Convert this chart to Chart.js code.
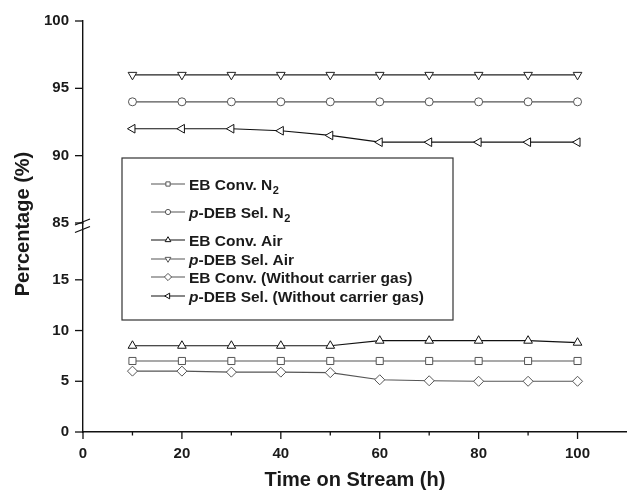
<!DOCTYPE html>
<html>
<head>
<meta charset="utf-8">
<script src="https://cdn.jsdelivr.net/npm/chart.js@4.4.1/dist/chart.umd.min.js"></script>
<style>
  html, body { margin: 0; padding: 0; background: #fff; }
  #wrap { width: 627px; height: 490px; }
</style>
</head>
<body>
<div id="wrap"><canvas id="myChart" width="627" height="490"></canvas></div>
<script>
// Time on stream (h)
const hours = [10, 20, 30, 40, 50, 60, 70, 80, 90, 100];

// Series values (%)
const ebConvN2 = [7, 7, 7, 7, 7, 7, 7, 7, 7, 7];
const debSelN2 = [94, 94, 94, 94, 94, 94, 94, 94, 94, 94];
const ebConvAir = [8.5, 8.5, 8.5, 8.5, 8.5, 9, 9, 9, 9, 8.8];
const debSelAir = [96, 96, 96, 96, 96, 96, 96, 96, 96, 96];
const ebConvNoGas = [6, 6, 5.9, 5.9, 5.85, 5.15, 5.05, 5, 5, 5];
const debSelNoGas = [92, 92, 92, 91.85, 91.5, 91, 91, 91, 91, 91];

// Tick values of the broken y axis and the x axis
const lowTicks = [0, 2.5, 5, 7.5, 10, 12.5, 15, 17.5];
const highTicks = [85, 87.5, 90, 92.5, 95, 97.5, 100];
const xTicks = [0, 10, 20, 30, 40, 50, 60, 70, 80, 90, 100, 110];

const FONT = '"Liberation Sans", Arial, Helvetica, sans-serif';
Chart.defaults.font.family = FONT;
Chart.defaults.color = '#1a1a1a';

// Legend entries: parts are [text, style] where style is 'n', 'i' (italic) or 's' (subscript)
const legendItems = [
  { parts: [['EB Conv. N', 'n'], ['2', 's']], style: 'rect', rot: 0, color: '#555', r: 3 },
  { parts: [['p', 'i'], ['-DEB Sel. N', 'n'], ['2', 's']], style: 'circle', rot: 0, color: '#555', r: 2.6 },
  { parts: [['EB Conv. Air', 'n']], style: 'triangle', rot: 0, color: '#111', r: 3.3 },
  { parts: [['p', 'i'], ['-DEB Sel. Air', 'n']], style: 'triangle', rot: 180, color: '#555', r: 3.3 },
  { parts: [['EB Conv. (Without carrier gas)', 'n']], style: 'rectRot', rot: 0, color: '#555', r: 3.6 },
  { parts: [['p', 'i'], ['-DEB Sel. (Without carrier gas)', 'n']], style: 'triangle', rot: -90, color: '#111', r: 3.3 }
];
const legendRows = [184, 212, 240, 259, 277, 296];

function series(label, data, axis, style, rot, color, r) {
  return {
    label: label,
    data: data,
    yAxisID: axis,
    borderColor: color,
    borderWidth: 1.2,
    pointStyle: style,
    rotation: rot,
    pointRadius: r,
    pointBackgroundColor: '#fff',
    pointBorderColor: color,
    pointBorderWidth: 1,
    tension: 0
  };
}

// Small tick marks, broken-axis sign, custom legend and axis titles
const decorations = {
  id: 'decorations',
  afterDraw(chart) {
    const ctx = chart.ctx;
    ctx.save();
    ctx.strokeStyle = '#111';
    ctx.lineWidth = 1.3;

    const xs = chart.scales.x;
    xs.ticks.forEach(function (t) {
      if (t.value > 100) return;
      const px = xs.getPixelForValue(t.value);
      const len = t.value % 20 === 0 ? 7 : 3.5;
      ctx.beginPath();
      ctx.moveTo(px, xs.top);
      ctx.lineTo(px, xs.top + len);
      ctx.stroke();
    });
    ['yLow', 'yHigh'].forEach(function (id) {
      const s = chart.scales[id];
      s.ticks.forEach(function (t) {
        const py = s.getPixelForValue(t.value);
        const len = t.value % 5 === 0 ? 8 : 3.5;
        ctx.beginPath();
        ctx.moveTo(s.right, py);
        ctx.lineTo(s.right - len, py);
        ctx.stroke();
      });
    });

    // break sign on the y axis at 85
    const yb = chart.scales.yHigh.getPixelForValue(85);
    const ax = chart.scales.yHigh.right;
    ctx.lineWidth = 1.2;
    [-1, 6.5].forEach(function (off) {
      ctx.beginPath();
      ctx.moveTo(ax - 8, yb + off + 3);
      ctx.lineTo(ax + 7, yb + off - 3);
      ctx.stroke();
    });

    // legend box
    ctx.lineWidth = 1.2;
    ctx.strokeStyle = '#333';
    ctx.strokeRect(122, 158, 331, 162);

    legendItems.forEach(function (item, i) {
      const y = legendRows[i];
      ctx.strokeStyle = item.color;
      ctx.lineWidth = 1.2;
      ctx.beginPath();
      ctx.moveTo(151, y);
      ctx.lineTo(185, y);
      ctx.stroke();
      ctx.fillStyle = '#fff';
      ctx.lineWidth = 1;
      Chart.helpers.drawPoint(ctx, { pointStyle: item.style, radius: item.r, rotation: item.rot, borderWidth: 1 }, 168, y);

      let x = 189;
      ctx.fillStyle = '#1a1a1a';
      ctx.textBaseline = 'alphabetic';
      ctx.textAlign = 'left';
      item.parts.forEach(function (p) {
        if (p[1] === 'i') {
          ctx.font = 'italic bold 15.5px ' + FONT;
          ctx.fillText(p[0], x, y + 5.5);
        } else if (p[1] === 's') {
          ctx.font = 'bold 11px ' + FONT;
          ctx.fillText(p[0], x + 0.5, y + 9.5);
        } else {
          ctx.font = 'bold 15.5px ' + FONT;
          ctx.fillText(p[0], x, y + 5.5);
        }
        x += ctx.measureText(p[0]).width;
      });
    });

    // axis titles
    ctx.fillStyle = '#1a1a1a';
    ctx.font = 'bold 20px ' + FONT;
    ctx.textAlign = 'center';
    ctx.textBaseline = 'middle';
    ctx.fillText('Time on Stream (h)', 355, 480);
    ctx.translate(23, 224);
    ctx.rotate(-Math.PI / 2);
    ctx.fillText('Percentage (%)', 0, 0);
    ctx.restore();
  }
};

function yAxis(min, max, ticks, weight) {
  return {
    type: 'linear',
    position: 'left',
    stack: 'y',
    stackWeight: weight,
    min: min,
    max: max,
    afterBuildTicks: function (scale) {
      scale.ticks = ticks.map(function (v) { return { value: v }; });
    },
    afterFit: function (scale) { scale.width = 83; },
    grid: { display: false, drawTicks: true, tickLength: 8 },
    border: { display: true, color: '#111', width: 1.4 },
    ticks: {
      padding: 6,
      font: { size: 15, weight: 'bold' },
      callback: function (v) { return v % 5 === 0 ? v : ''; }
    }
  };
}

const ctx = document.getElementById('myChart').getContext('2d');
new Chart(ctx, {
  type: 'line',
  data: {
    labels: hours,
    datasets: [
      series('EB Conv. N2', ebConvN2, 'yLow', 'rect', 0, '#555', 5),
      series('p-DEB Sel. N2', debSelN2, 'yHigh', 'circle', 0, '#555', 4),
      series('EB Conv. Air', ebConvAir, 'yLow', 'triangle', 0, '#111', 5),
      series('p-DEB Sel. Air', debSelAir, 'yHigh', 'triangle', 180, '#222', 5),
      series('EB Conv. (Without carrier gas)', ebConvNoGas, 'yLow', 'rectRot', 0, '#555', 5),
      series('p-DEB Sel. (Without carrier gas)', debSelNoGas, 'yHigh', 'triangle', -90, '#111', 5)
    ]
  },
  options: {
    responsive: false,
    animation: false,
    layout: { autoPadding: false, padding: { top: 21, right: 0, bottom: 0, left: 0 } },
    plugins: {
      legend: { display: false },
      tooltip: { enabled: false }
    },
    scales: {
      x: {
        type: 'linear',
        min: 0,
        max: 110,
        afterBuildTicks: function (scale) {
          scale.ticks = xTicks.map(function (v) { return { value: v }; });
        },
        afterFit: function (scale) {
          scale.height = 58;
          scale.paddingRight = 0;
        },
        grid: { display: false, drawTicks: true, tickLength: 8 },
        border: { display: true, color: '#111', width: 1.4 },
        ticks: {
          padding: 5,
          autoSkip: false,
          maxRotation: 0,
          font: { size: 15, weight: 'bold' },
          callback: function (v) { return (v % 20 === 0 && v <= 100) ? v : ''; }
        }
      },
      yLow: yAxis(0, 20.6, lowTicks, 209),
      yHigh: yAxis(85, 100, highTicks, 202)
    }
  },
  plugins: [decorations]
});
</script>
</body>
</html>
